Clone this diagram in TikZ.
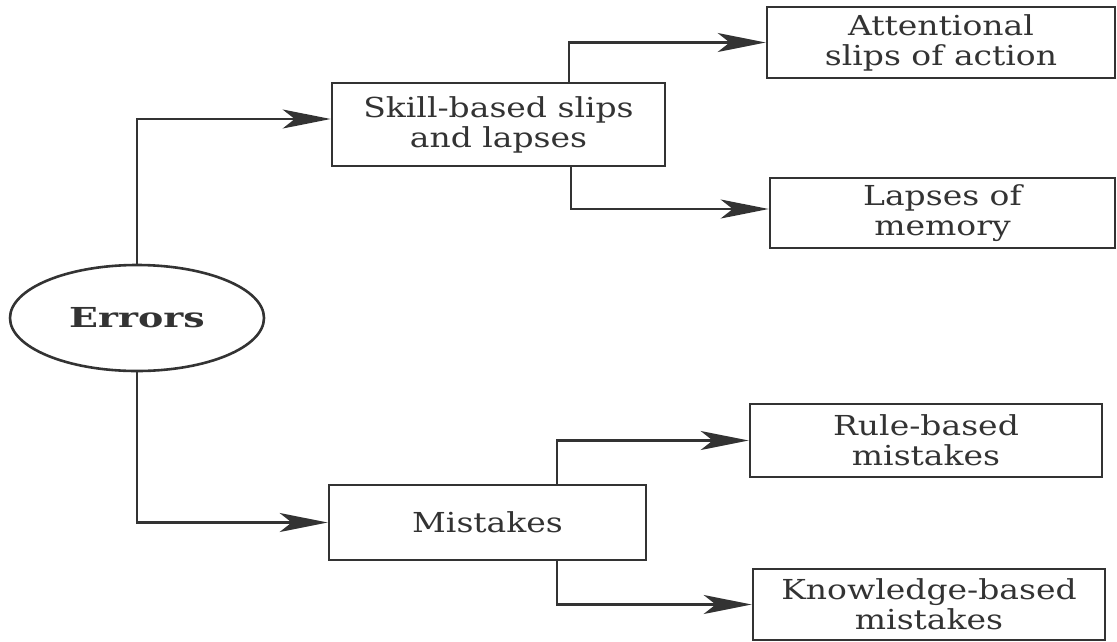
\documentclass[tikz,border=0pt]{standalone}
\usepackage{fontspec}
\setmainfont[FakeStretch=1.2]{DejaVu Serif}
\newfontfamily\errfont[FakeStretch=1.38]{DejaVu Serif}
\usetikzlibrary{shapes.geometric,arrows.meta}
\definecolor{ink}{HTML}{333333}
\tikzset{
  box/.style={draw=ink, line width=2.6pt, rectangle, inner sep=0pt, align=center,
    text=ink, font=\fontsize{27.5}{30}\selectfont},
  arr/.style={draw=ink, line width=2.6pt, -{Stealth[length=48pt, width=19pt, inset=12pt]}}
}
\begin{document}
\begin{tikzpicture}[x=1pt,y=-1pt]
\useasboundingbox (0,0) rectangle (1117,641);
\node[ellipse, draw=ink, line width=2.6pt, minimum width=254pt, minimum height=106pt, inner sep=0pt,
  text=ink, font=\errfont\fontsize{27.5}{30}\selectfont\bfseries] (err) at (137,318) {Errors};
\node[box, minimum width=333pt, minimum height=83pt] (skill) at (498.5,124.5) {Skill-based slips\\and lapses};
\node[box, minimum width=317pt, minimum height=75pt] (mis) at (487.5,522.5) {Mistakes};
\node[box, minimum width=348pt, minimum height=71pt] (att) at (941,42.5) {Attentional\\slips of action};
\node[box, minimum width=345pt, minimum height=70pt] (lap) at (942.5,213) {Lapses of\\memory};
\node[box, minimum width=352pt, minimum height=73pt] (rule) at (926,440.5) {Rule-based\\mistakes};
\node[box, minimum width=352pt, minimum height=71pt] (know) at (929,604.5) {Knowledge-based\\mistakes};
\draw[arr] (err.north) |- ([yshift=5.5pt]skill.west);
\draw[arr] (err.south) |- (mis.west);
\draw[arr] ([xshift=70.5pt]skill.north) |- (att.west);
\draw[arr] ([xshift=72.5pt]skill.south) |- ([yshift=4pt]lap.west);
\draw[arr] ([xshift=69.5pt]mis.north) |- (rule.west);
\draw[arr] ([xshift=69.5pt]mis.south) |- (know.west);
\end{tikzpicture}
\end{document}
